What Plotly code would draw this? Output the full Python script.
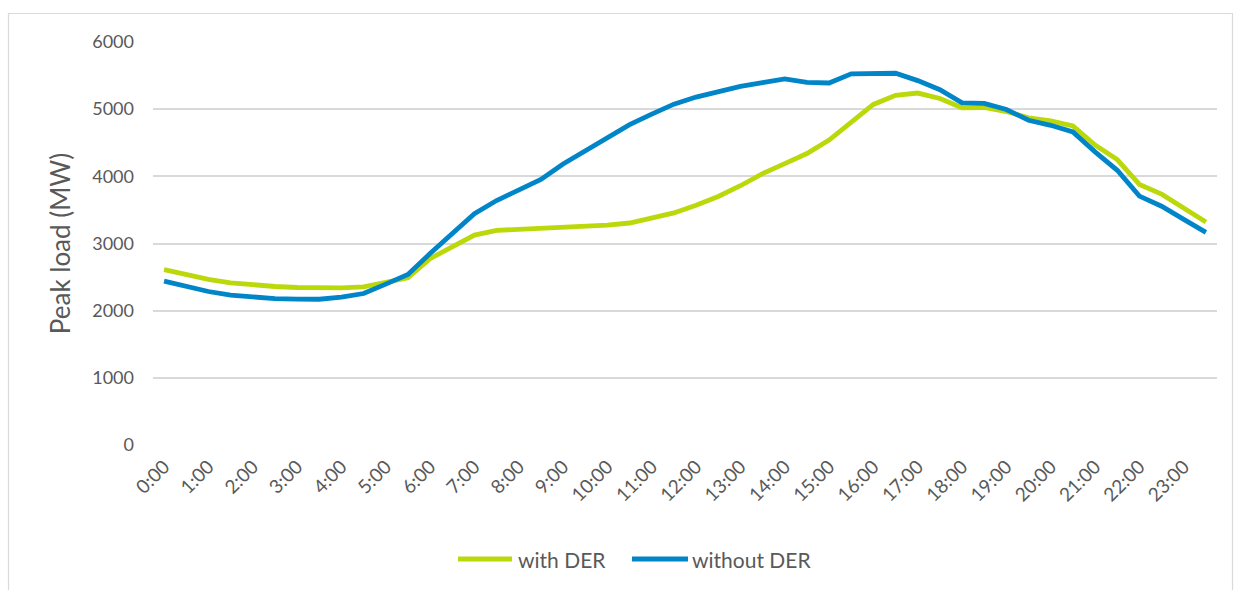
import plotly.graph_objects as go

# Half-hourly time slots across the day
times = [f"{h}:{m:02d}" for h in range(24) for m in (0, 30)]
hour_labels = [f"{h}:00" for h in range(24)]

# Peak load (MW) per half hour
with_der = [
    2610, 2530, 2465, 2415, 2385, 2360, 2345, 2340, 2340, 2355, 2420, 2490,
    2775, 2950, 3125, 3195, 3210, 3235, 3255, 3260, 3275, 3305, 3380, 3455,
    3570, 3700, 3860, 4040, 4190, 4340, 4540, 4810, 5070, 5205, 5240, 5160,
    5020, 5025, 4965, 4870, 4825, 4750, 4465, 4250, 3880, 3735, 3530, 3320,
]
without_der = [
    2440, 2355, 2285, 2230, 2200, 2180, 2172, 2170, 2200, 2255, 2395, 2540,
    2850, 3150, 3445, 3640, 3800, 3955, 4185, 4375, 4580, 4770, 4925, 5075,
    5180, 5265, 5340, 5395, 5450, 5400, 5390, 5525, 5530, 5535, 5425, 5290,
    5095, 5085, 4995, 4835, 4760, 4660, 4365, 4090, 3705, 3555, 3360, 3165,
]

series = [("with DER", with_der, "#BBD80A"), ("without DER", without_der, "#0085C8")]

TEXT = "#595959"
FONT = "Lato, 'Open Sans', sans-serif"

W, H = 1240, 590
L, R, T, B = 153, 23, 42, 145
pw, ph = W - L - R, H - T - B


def px_x(px):
    return (px - L) / pw


def px_y(py):
    return (H - B - py) / ph


fig = go.Figure()
for name, values, color in series:
    fig.add_trace(go.Scatter(
        x=times, y=values, mode="lines", name=name,
        line=dict(color=color, width=4.8), showlegend=False,
    ))

# Legend drawn below the axis: long line swatch followed by its label
legend_items = [(458, 512, 516), (632, 688, 690)]
shapes = []
annotations = []
for (name, _, color), (sx0, sx1, tx) in zip(series, legend_items):
    shapes.append(dict(
        type="line", xref="paper", yref="paper",
        x0=px_x(sx0), x1=px_x(sx1), y0=px_y(559), y1=px_y(559),
        line=dict(color=color, width=5), layer="above",
    ))
    annotations.append(dict(
        text=name, xref="paper", yref="paper", x=px_x(tx), y=px_y(559),
        xanchor="left", yanchor="middle", showarrow=False,
        font=dict(size=21, color=TEXT, family=FONT),
    ))

shapes.append(dict(
    type="rect", xref="paper", yref="paper",
    x0=px_x(8.5), x1=px_x(1232.5), y0=px_y(600), y1=px_y(13.5),
    line=dict(color="#D9D9D9", width=1.2), fillcolor="rgba(0,0,0,0)", layer="below",
))

fig.update_layout(
    width=W, height=H,
    margin=dict(l=L, r=R, t=T, b=B),
    paper_bgcolor="white", plot_bgcolor="white",
    font=dict(family=FONT, color=TEXT, size=18),
    showlegend=False,
    xaxis=dict(
        type="category", categoryorder="array", categoryarray=times,
        range=[-0.5, len(times) - 0.5],
        tickvals=hour_labels, ticktext=hour_labels, tickangle=-45,
        showgrid=False, showline=False, ticks="", zeroline=False,
        tickfont=dict(size=19, color=TEXT), ticklabelstandoff=6,
    ),
    yaxis=dict(
        range=[0, 6000], tickvals=[0, 1000, 2000, 3000, 4000, 5000, 6000],
        showgrid=True, gridcolor="#D9D9D9", gridwidth=1.5,
        showline=False, zeroline=False, ticks="",
        tickfont=dict(size=18, color=TEXT), ticklabelstandoff=18,
        title=dict(text="Peak load (MW)", font=dict(size=26, color=TEXT), standoff=14),
    ),
    shapes=shapes,
    annotations=annotations,
)

fig.write_html("out.html")
